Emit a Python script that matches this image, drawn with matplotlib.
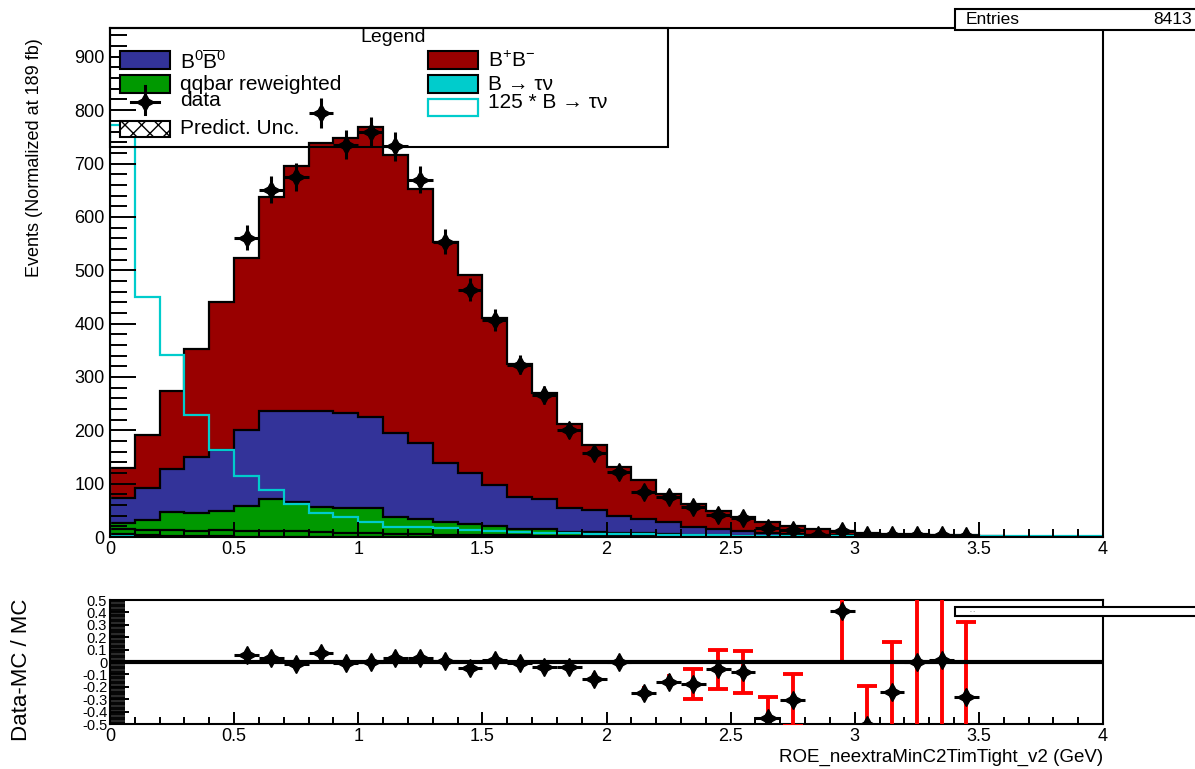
import numpy as np
import matplotlib.pyplot as plt
from matplotlib.patches import Rectangle
from matplotlib.lines import Line2D
from matplotlib.ticker import MultipleLocator, FuncFormatter

plt.rcParams['font.family'] = ['Liberation Sans', 'DejaVu Sans']
plt.rcParams['mathtext.fontset'] = 'custom'
plt.rcParams['mathtext.rm'] = 'Liberation Sans'
plt.rcParams['mathtext.it'] = 'Liberation Sans:italic'
plt.rcParams['axes.unicode_minus'] = False

# 40 bins of 0.1 GeV between 0 and 4
edges = np.round(np.arange(0, 4.01, 0.1), 1)

# 125 x B -> tau nu signal (line), per bin
sig_x125 = [773, 450, 341, 229, 163, 114, 88, 62, 45, 38,
            28, 19, 19, 17, 13, 11, 10, 8, 7, 6,
            5, 5, 4, 3, 3, 2, 2, 1.5, 1.2, 1,
            1, 1, 1, 1, 1, 1, 1, 1, 1, 1]

# stacked MC components, per bin
qq_low = [8, 9, 10, 10, 11, 11, 10, 10, 9, 8,
          7, 6, 5, 4, 4, 3, 3, 2, 2, 2,
          1.5, 1.5, 1, 1, 1, 0.5, 0.5, 0.5, 0.3, 0.3,
          0.2, 0.2, 0.1, 0.1, 0.1, 0.1, 0, 0, 0, 0]
qq_rew = [12, 19, 34, 33, 37, 46, 60, 55, 47, 46,
          47, 32, 29, 24, 20, 18, 11, 12, 8, 8,
          6.5, 5.5, 5, 2, 2, 1.5, 1.5, 1, 0.8, 0.7,
          0.5, 0.5, 0.4, 0.3, 0.3, 0.2, 0, 0, 0, 0]
b0b0 = [47, 61, 81, 105, 113, 142, 165, 170, 180, 179,
        171, 157, 142, 111, 96, 77, 61, 58, 45, 40,
        32, 26, 22, 15, 12, 10, 5, 4, 3, 2.5,
        2, 1.5, 1, 1, 0.8, 0.5, 0, 0, 0, 0]
bpbm = [56, 98, 146, 203, 278, 323, 402, 460, 503, 515,
        544, 521, 476, 414, 371, 313, 250, 198, 157, 123,
        91, 74, 52, 44, 33, 26, 21, 15, 10, 8.5,
        5.5, 4, 3.5, 2.7, 1.8, 1.2, 0, 0, 0, 0]
btaunu = np.array(sig_x125) / 125.0

# data, bin centres 0.55 ... 3.45
data_x = np.round(np.arange(0.55, 3.46, 0.1), 2)
data_y = [561, 651, 675, 795, 735, 760, 732, 670, 553, 463,
          407, 323, 266, 200, 158, 122, 84, 75, 56, 41,
          36, 16, 13, 4, 11, 3, 4, 4, 3, 2]

# (Data-MC)/MC and its uncertainty
ratio = [0.06, 0.03, -0.02, 0.07, -0.01, 0.0, 0.03, 0.03, 0.01, -0.05,
         0.02, -0.01, -0.04, -0.04, -0.14, 0.0, -0.25, -0.16, -0.18, -0.06,
         -0.08, -0.45, -0.31, np.nan, 0.41, -0.51, -0.24, 0.0, 0.02, -0.28]
ratio_err = [0.03, 0.03, 0.03, 0.03, 0.03, 0.03, 0.03, 0.03, 0.03, 0.03,
             0.03, 0.04, 0.04, 0.04, 0.05, 0.05, 0.06, 0.06, 0.12, 0.16,
             0.17, 0.17, 0.21, 0.3, 0.41, 0.32, 0.4, 1.0, 1.0, 0.6]

c_red = '#990000'
c_blue = '#333399'
c_green = '#009900'
c_cyan = '#00cccc'

W, H = 1195, 769
fig = plt.figure(figsize=(W / 100, H / 100), dpi=100)

def fx(px):
    return px / W

def fy(py):
    return 1 - py / H

ax = fig.add_axes([fx(110), fy(537), fx(1103) - fx(110), fy(28) - fy(537)])
rax = fig.add_axes([fx(110), fy(724), fx(1103) - fx(110), fy(600) - fy(724)])

# THStack style: draw cumulative sums from the top down
layers = [(btaunu, c_cyan), (qq_low, c_green), (qq_rew, c_green),
          (b0b0, c_blue), (bpbm, c_red)]
cums = np.cumsum([np.asarray(v, float) for v, _ in layers], axis=0)
for i in range(len(layers) - 1, -1, -1):
    ax.stairs(cums[i], edges, baseline=0, fill=True, color=layers[i][1], lw=0)
    ax.stairs(cums[i], edges, baseline=0, color='black', lw=1.6)

ax.stairs(sig_x125, edges, baseline=0, color=c_cyan, lw=1.6)

star = (4, 1, 0)
ax.errorbar(data_x, data_y, xerr=0.05, yerr=np.sqrt(data_y), fmt='none',
            ecolor='black', elinewidth=2.2, capsize=0, zorder=5)
ax.plot(data_x, data_y, ls='none', marker=star, ms=13, color='black', zorder=6)

ax.set_xlim(0, 4)
ax.set_ylim(0, 954)
ax.xaxis.set_major_locator(MultipleLocator(0.5))
ax.xaxis.set_minor_locator(MultipleLocator(0.1))
ax.yaxis.set_major_locator(MultipleLocator(100))
ax.yaxis.set_minor_locator(MultipleLocator(20))
fmt = FuncFormatter(lambda v, p: '%g' % round(v, 2))
ax.xaxis.set_major_formatter(fmt)
ax.tick_params(axis='y', which='major', direction='in', length=19, width=1.4,
               labelsize=13, pad=4)
ax.tick_params(axis='y', which='minor', direction='in', length=12, width=1.4)
ax.tick_params(axis='x', which='major', direction='in', length=11, width=1.4,
               labelsize=13, pad=3)
ax.tick_params(axis='x', which='minor', direction='in', length=6, width=1.4)
for s in ax.spines.values():
    s.set_linewidth(1.5)

# ratio panel: red bars first, markers on top
ok = ~np.isnan(ratio)
rx = data_x[ok]
ry = np.array(ratio)[ok]
re = np.array(ratio_err)[ok]
big = re >= 0.1
rax.errorbar(rx[~big], ry[~big], yerr=re[~big], fmt='none', ecolor='#ff0000',
             elinewidth=2.8, capsize=0, zorder=3)
rax.errorbar(rx[big], ry[big], yerr=re[big], fmt='none', ecolor='#ff0000',
             elinewidth=2.8, capsize=7, capthick=2.8, zorder=3)
rax.axhline(0, color='black', lw=3, zorder=4)
rax.errorbar(rx, ry, xerr=0.05, fmt='none', ecolor='black', elinewidth=2.2,
             zorder=5)
rax.plot(rx, ry, ls='none', marker=star, ms=13, color='black', zorder=6)
rax.set_xlim(0, 4)
rax.set_ylim(-0.5, 0.5)
rax.xaxis.set_major_locator(MultipleLocator(0.5))
rax.xaxis.set_minor_locator(MultipleLocator(0.1))
rax.xaxis.set_major_formatter(fmt)
rax.yaxis.set_major_locator(MultipleLocator(0.1))
rax.yaxis.set_minor_locator(MultipleLocator(0.01))
rax.yaxis.set_major_formatter(fmt)
rax.tick_params(axis='y', which='major', direction='in', length=14, width=1.4,
                labelsize=10.5, pad=2)
rax.tick_params(axis='y', which='minor', direction='in', length=11, width=1.2)
rax.tick_params(axis='x', which='major', direction='in', length=9, width=1.4,
                labelsize=13, pad=3)
rax.tick_params(axis='x', which='minor', direction='in', length=5, width=1.4)
for s in rax.spines.values():
    s.set_linewidth(1.5)

# axis titles
fig.text(fx(35), fy(38), 'Events (Normalized at 189 fb)', rotation=90,
         ha='center', va='top', fontsize=13)
fig.text(fx(22), fy(670), 'Data-MC / MC', rotation=90, ha='center',
         va='center', fontsize=16)
fig.text(fx(1103), fy(757), 'ROE_neextraMinC2TimTight_v2 (GeV)', ha='right',
         va='center', fontsize=13.5)

# stats boxes
def box(x0, y0, x1, y1, **kw):
    r = Rectangle((fx(x0), fy(y1)), fx(x1) - fx(x0), fy(y0) - fy(y1),
                  transform=fig.transFigure, **kw)
    fig.add_artist(r)
    return r

box(955, 9, 1215, 30, fc='white', ec='black', lw=1.5)
fig.text(fx(966), fy(20), 'Entries', ha='left', va='center', fontsize=12.5)
fig.text(fx(1192), fy(20), '8413', ha='right', va='center', fontsize=12.5)
box(955, 607, 1215, 616, fc='white', ec='black', lw=1.5, zorder=10)
fig.text(fx(970), fy(611.5), '- -', ha='left', va='center', fontsize=4,
         color='#555555', zorder=11)

# legend
box(110, 28, 668, 147, fill=False, ec='black', lw=1.5)
fig.text(fx(393), fy(38), 'Legend', ha='center', va='center', fontsize=14)
ls = 15
box(120, 51, 170, 69, fc=c_blue, ec='black', lw=1.5)
fig.text(fx(180), fy(61), r'B$^{0}\overline{\mathrm{B}}^{0}$', ha='left',
         va='center', fontsize=ls)
box(428, 51, 478, 69, fc=c_red, ec='black', lw=1.5)
fig.text(fx(488), fy(61), r'B$^{+}$B$^{-}$', ha='left', va='center',
         fontsize=ls)
box(120, 75, 170, 93, fc=c_green, ec='black', lw=1.5)
fig.text(fx(180), fy(84), 'qqbar reweighted', ha='left', va='center',
         fontsize=ls)
box(428, 75, 478, 93, fc=c_cyan, ec='black', lw=1.5)
fig.text(fx(488), fy(84), 'B → τν', ha='left', va='center', fontsize=ls)
fig.add_artist(Line2D([fx(131), fx(159)], [fy(102), fy(102)], color='black',
                      lw=2.2, transform=fig.transFigure))
fig.add_artist(Line2D([fx(145), fx(145)], [fy(86), fy(114)], color='black',
                      lw=2.2, transform=fig.transFigure))
fig.add_artist(Line2D([fx(145)], [fy(102)], marker=star, ms=13, color='black',
                      transform=fig.transFigure))
fig.text(fx(180), fy(101), 'data', ha='left', va='center', fontsize=ls)
box(428, 99, 478, 116, fc='white', ec=c_cyan, lw=1.6)
fig.text(fx(488), fy(103), '125 * B → τν', ha='left', va='center',
         fontsize=ls)
plt.rcParams['hatch.color'] = c_cyan
box(120, 121, 170, 137, fc='white', ec='black', lw=1.5, hatch='xx')
fig.text(fx(180), fy(128), 'Predict. Unc.', ha='left', va='center',
         fontsize=ls)

fig.savefig('out.png', dpi=100)
